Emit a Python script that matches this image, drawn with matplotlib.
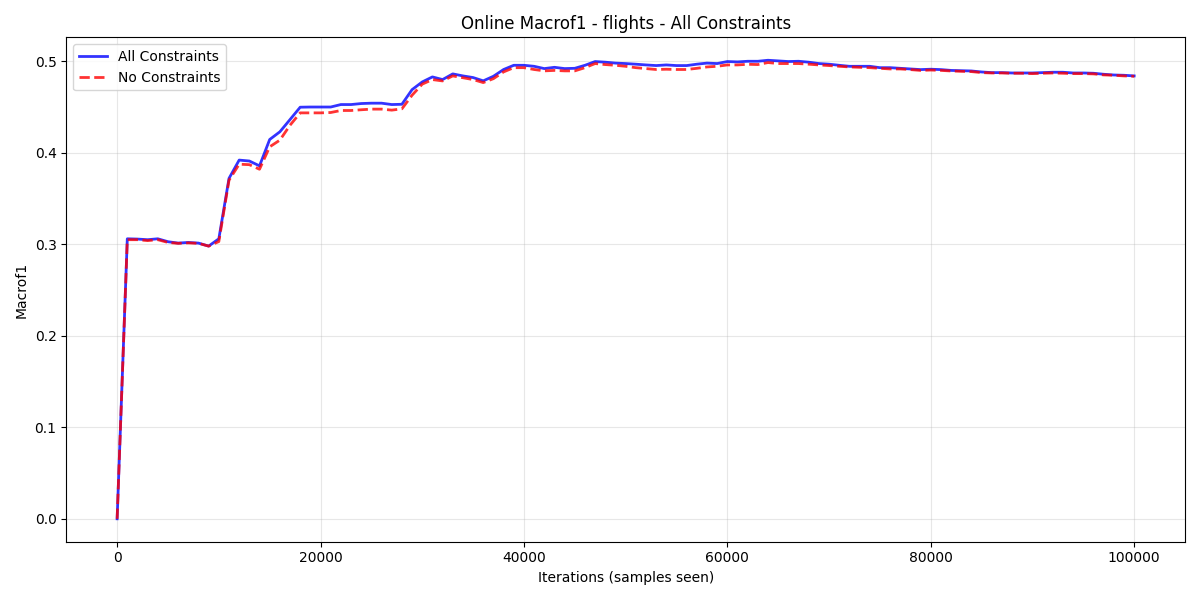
import numpy as np
import matplotlib
matplotlib.use("Agg")
import matplotlib.pyplot as plt

# samples seen, one evaluation every 1000 samples
iterations = np.arange(0, 101000, 1000)

all_constraints = [
    0.000, 0.306, 0.3057, 0.305, 0.306, 0.3028, 0.3013, 0.302, 0.3013, 0.298,
    0.306, 0.372, 0.392, 0.391, 0.3857, 0.4145, 0.4229, 0.4363, 0.4498, 0.450,
    0.450, 0.450, 0.4527, 0.4527, 0.4538, 0.4542, 0.4542, 0.4527, 0.453, 0.469,
    0.4774, 0.4829, 0.480, 0.4862, 0.484, 0.4822, 0.4786, 0.4836, 0.491, 0.4956,
    0.4956, 0.4945, 0.492, 0.4934, 0.492, 0.4923, 0.4956, 0.4997, 0.499, 0.498,
    0.4975, 0.4968, 0.496, 0.4953, 0.496, 0.4953, 0.4953, 0.4968, 0.498, 0.4975,
    0.4997, 0.4993, 0.500, 0.500, 0.5011, 0.5004, 0.4997, 0.500, 0.499, 0.4975,
    0.4968, 0.4956, 0.4945, 0.4945, 0.4945, 0.493, 0.493, 0.4923, 0.4916, 0.4909,
    0.4913, 0.4909, 0.490, 0.4897, 0.4894, 0.4883, 0.4876, 0.4876, 0.4872, 0.4872,
    0.4872, 0.4876, 0.488, 0.488, 0.4872, 0.4872, 0.4869, 0.4858, 0.485, 0.4847,
    0.484,
]

no_constraints = [
    0.000, 0.305, 0.305, 0.304, 0.305, 0.302, 0.301, 0.3015, 0.301, 0.298,
    0.303, 0.370, 0.3875, 0.387, 0.382, 0.4065, 0.4138, 0.4301, 0.4436, 0.4436,
    0.4436, 0.444, 0.4462, 0.4462, 0.447, 0.4477, 0.4477, 0.4466, 0.448, 0.4629,
    0.475, 0.480, 0.4785, 0.484, 0.482, 0.480, 0.4767, 0.481, 0.4884, 0.493,
    0.493, 0.491, 0.4895, 0.490, 0.4895, 0.4895, 0.493, 0.4975, 0.4964, 0.4956,
    0.4945, 0.493, 0.492, 0.491, 0.4913, 0.491, 0.491, 0.4923, 0.4938, 0.4945,
    0.496, 0.496, 0.4967, 0.4964, 0.4986, 0.4975, 0.4975, 0.4975, 0.4968, 0.496,
    0.4953, 0.4945, 0.4938, 0.4934, 0.493, 0.4923, 0.4916, 0.4916, 0.4909, 0.490,
    0.4904, 0.490, 0.4894, 0.489, 0.4887, 0.4876, 0.4872, 0.4872, 0.4869, 0.4869,
    0.4865, 0.4869, 0.4872, 0.4869, 0.4865, 0.4865, 0.4862, 0.4851, 0.4847, 0.484,
    0.4836,
]

fig, ax = plt.subplots(figsize=(12, 6), dpi=100)
ax.plot(iterations, all_constraints, color="blue", linewidth=2, alpha=0.8, label="All Constraints")
ax.plot(iterations, no_constraints, "--", color="red", linewidth=2, alpha=0.8, label="No Constraints")

ax.set_xlabel("Iterations (samples seen)")
ax.set_ylabel("Macrof1")
ax.set_title("Online Macrof1 - flights - All Constraints")
ax.grid(True, alpha=0.3)
ax.legend(loc="upper left")

fig.tight_layout()
fig.savefig("out.png")
